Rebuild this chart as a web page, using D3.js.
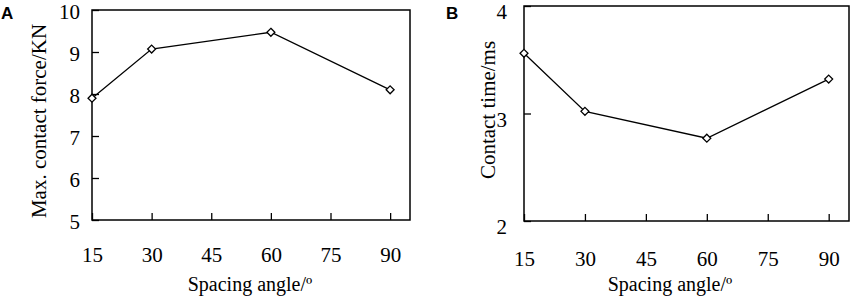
<!DOCTYPE html>
<html>
<head>
<meta charset="utf-8">
<script src="https://cdn.jsdelivr.net/npm/d3@7"></script>
<style>
  body { margin: 0; background: #fff; }
  svg text { font-family: "Liberation Serif", "Times New Roman", serif; fill: #000; }
  .panel-label { font-family: "Liberation Sans", Arial, sans-serif; font-weight: bold; }
</style>
</head>
<body>
<div id="container"></div>
<script>
// data
const angles = [15, 30, 60, 90];
const xTicks = [15, 30, 45, 60, 75, 90];
const forceValues = [7.9, 9.07, 9.47, 8.1];
const forceTicks = [5, 6, 7, 8, 9, 10];
const timeValues = [3.56, 3.02, 2.77, 3.32];
const timeTicks = [2, 3, 4];

const svg = d3.select("#container")
  .append("svg")
    .attr("width", 851)
    .attr("height", 297);

// draws one panel
const drawPanel = (props) => {
  const { box, yDomain, yTicks, values, yTitle, yTitleX, yTitleY, label, labelX,
          xTitleX, xPad, yPad, yDy } = props;

  const x = d3.scaleLinear().domain([15, 95]).range([box.left, box.right]);
  const y = d3.scaleLinear().domain(yDomain).range([box.bottom, box.top]);

  const g = svg.append("g");

  // frame
  g.append("rect")
    .attr("x", box.left).attr("y", box.top)
    .attr("width", box.right - box.left).attr("height", box.bottom - box.top)
    .attr("fill", "none").attr("stroke", "#000").attr("stroke-width", 1.5);

  // x axis: ticks point inward
  const xAxis = g.append("g")
    .attr("transform", `translate(0,${box.bottom})`)
    .call(d3.axisBottom(x).tickValues(xTicks).tickFormat(d3.format("d"))
      .tickSizeInner(-7).tickSizeOuter(0).tickPadding(xPad));
  xAxis.attr("font-size", null).attr("font-family", null);
  xAxis.select(".domain").remove();
  xAxis.selectAll("line").attr("stroke-width", 1.3);
  xAxis.selectAll("text").style("font-size", "21px");

  // y axis
  const yAxis = g.append("g")
    .attr("transform", `translate(${box.left},0)`)
    .call(d3.axisLeft(y).tickValues(yTicks).tickFormat(d3.format("d"))
      .tickSizeInner(-7).tickSizeOuter(0).tickPadding(yPad));
  yAxis.attr("font-size", null).attr("font-family", null);
  yAxis.select(".domain").remove();
  yAxis.selectAll("line").attr("stroke-width", 1.3);
  yAxis.selectAll("text").style("font-size", "21px").attr("dy", yDy);

  // line
  const line = d3.line()
    .x((d, i) => x(angles[i]))
    .y(d => y(d));
  g.append("path")
    .datum(values)
    .attr("d", line)
    .attr("fill", "none")
    .attr("stroke", "#000")
    .attr("stroke-width", 1.3);

  // diamond markers
  g.selectAll(".pt")
    .data(values)
    .join("path")
      .attr("class", "pt")
      .attr("d", d3.symbol().type(d3.symbolDiamond2).size(40))
      .attr("transform", (d, i) => `translate(${x(angles[i])},${y(d)})`)
      .attr("fill", "#fff")
      .attr("stroke", "#000")
      .attr("stroke-width", 1.3);

  // titles
  g.append("text")
    .attr("x", xTitleX).attr("y", 291)
    .attr("text-anchor", "middle")
    .style("font-size", "20px")
    .text("Spacing angle/º");

  g.append("text")
    .attr("transform", `translate(${yTitleX},${yTitleY}) rotate(-90)`)
    .attr("text-anchor", "middle")
    .style("font-size", "21px")
    .text(yTitle);

  g.append("text")
    .attr("class", "panel-label")
    .attr("x", labelX).attr("y", 19)
    .style("font-size", "17px")
    .text(label);
};

drawPanel({
  box: {left: 92, right: 410, top: 10, bottom: 220},
  yDomain: [5, 10],
  yTicks: forceTicks,
  values: forceValues,
  yTitle: "Max. contact force/KN",
  yTitleX: 46,
  yTitleY: 121,
  label: "A",
  labelX: 1,
  xTitleX: 250,
  xPad: 27,
  yPad: 12,
  yDy: "0.4em"
});

drawPanel({
  box: {left: 524, right: 849, top: 6, bottom: 221},
  yDomain: [2, 4],
  yTicks: timeTicks,
  values: timeValues,
  yTitle: "Contact time/ms",
  yTitleX: 495,
  yTitleY: 110,
  label: "B",
  labelX: 446,
  xTitleX: 670,
  xPad: 30,
  yPad: 17,
  yDy: "0.6em"
});
</script>
</body>
</html>
